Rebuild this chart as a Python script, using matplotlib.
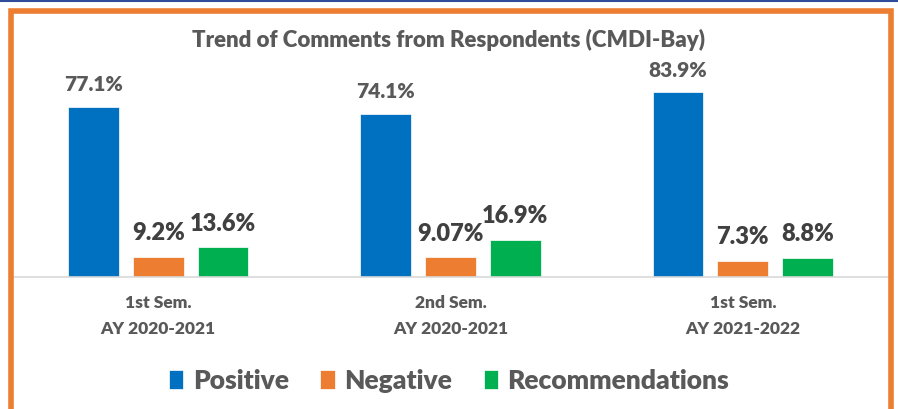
import numpy as np
import matplotlib.pyplot as plt
from matplotlib.patches import Rectangle
from matplotlib.lines import Line2D

# data
periods = ['1st Sem.\nAY 2020-2021', '2nd Sem.\nAY 2020-2021', '1st Sem.\nAY 2021-2022']
positive = [77.1, 74.1, 83.9]
negative = [9.2, 9.07, 7.3]
recommend = [13.6, 16.9, 8.8]
pos_labels = ['77.1%', '74.1%', '83.9%']
neg_labels = ['9.2%', '9.07%', '7.3%']
rec_labels = ['13.6%', '16.9%', '8.8%']

plt.rcParams['font.family'] = ['Lato', 'DejaVu Sans']
BOLD = 'heavy'

W, H = 898, 409
fig = plt.figure(figsize=(W / 100, H / 100), dpi=100)

# outer decoration: thin blue line on top and the orange frame
fig.add_artist(Line2D([0, 1], [1 - 1 / H, 1 - 1 / H], color='#2F4B9B', lw=1.5,
                      transform=fig.transFigure))
fig.add_artist(Rectangle((10.5 / W, -0.1), 880 / W, (H - 10.5) / H + 0.1,
                         fill=False, edgecolor='#ED7D31', lw=4,
                         transform=fig.transFigure))

ax = fig.add_axes([12 / W, (H - 277) / H, 877 / W, 220.5 / H])
x = np.arange(len(periods))
w = 0.174
step = 0.222
series = [(positive, pos_labels, '#0070C0', '#595959', 15),
          (negative, neg_labels, '#ED7D31', '#404040', 17),
          (recommend, rec_labels, '#00B050', '#404040', 17)]
names = ['Positive', 'Negative', 'Recommendations']
for i, (vals, labs, col, tcol, fs) in enumerate(series):
    bars = ax.bar(x + (i - 1) * step, vals, w, color=col, label=names[i],
                  edgecolor='white', linewidth=0.5)
    ax.bar_label(bars, labels=labs, padding=9, color=tcol, fontsize=fs,
                 fontweight=BOLD)

ax.set_xlim(-0.5, 2.5)
ax.set_ylim(0, 100)
for s in ['top', 'right', 'left']:
    ax.spines[s].set_visible(False)
ax.spines['bottom'].set_color('#D9D9D9')
ax.spines['bottom'].set_linewidth(1.2)
ax.set_yticks([])
ax.set_xticks(x)
ax.set_xticklabels(periods, fontsize=12.5, fontweight=BOLD, color='#595959',
                   linespacing=1.75)
ax.tick_params(axis='x', length=0, pad=13)

fig.text(0.5, 1 - 40 / H, 'Trend of Comments from Respondents (CMDI-Bay)',
         ha='center', va='center', fontsize=16, fontweight=BOLD, color='#595959')

fig.legend(loc='center', bbox_to_anchor=(0.5, 1 - 381 / H), ncol=3, frameon=False,
           prop={'size': 19, 'weight': BOLD}, labelcolor='#595959',
           handlelength=0.55, handleheight=0.75, handletextpad=0.35, columnspacing=1.2)

plt.savefig('out.png', dpi=100)
